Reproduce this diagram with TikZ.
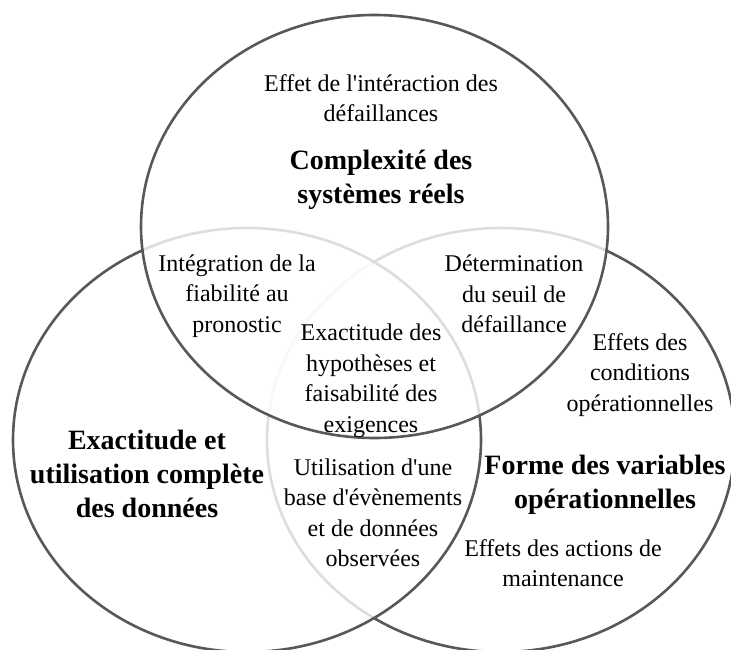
\documentclass[tikz,border=0pt]{standalone}
\usepackage{fontspec}
\setmainfont{Liberation Serif}[Ligatures=TeXOff]
\definecolor{ringcol}{RGB}{88,88,88}
\begin{document}
\begin{tikzpicture}[x=1pt,y=-1pt,
  ring/.style={draw=ringcol,line width=2.6pt},
  veil/.style={fill=white,fill opacity=0.8},
  txt/.style={align=center,inner sep=0pt,font=\fontsize{24}{30.5}\selectfont},
  btxt/.style={align=center,inner sep=0pt,font=\fontsize{28}{34}\selectfont\bfseries}]
\useasboundingbox (0,0) rectangle (731,650);
\clip (0,0) rectangle (731,650);
\fill[white] (0,0) rectangle (731,650);
% right set
\draw[ring] (501,440) ellipse [x radius=234, y radius=212];
% left set
\path[veil] (247,440) ellipse [x radius=234, y radius=212];
\draw[ring] (247,440) ellipse [x radius=234, y radius=212];
% top set
\path[veil] (374.5,226.5) ellipse [x radius=233.5, y radius=211.5];
\draw[ring] (374.5,226.5) ellipse [x radius=233.5, y radius=211.5];

\node[txt]  (effint) at (381,98)  {Effet de l'intéraction des\\défaillances};
\node[btxt] (compl)  at (381,180) {Complexité des\\systèmes réels};
\node[txt]  (integ)  at (237,296) {Intégration de la\\fiabilité au\\pronostic};
\node[txt]  (deter)  at (514,294) {Détermination\\du seuil de\\défaillance};
\node[txt]  (exhyp)  at (371,381) {Exactitude des\\hypothèses et\\faisabilité des\\exigences};
\node[txt]  (effcond) at (640,375) {Effets des\\conditions\\opérationnelles};
\node[btxt] (exdon)  at (147,474) {Exactitude et\\utilisation complète\\des données};
\node[txt]  (utilb)  at (373,513) {Utilisation d'une\\base d'évènements\\et de données\\observées};
\node[btxt] (forme)  at (605,485) {Forme des variables\\opérationnelles};
\node[txt]  (effact) at (563,563) {Effets des actions de\\maintenance};
\end{tikzpicture}
\end{document}
